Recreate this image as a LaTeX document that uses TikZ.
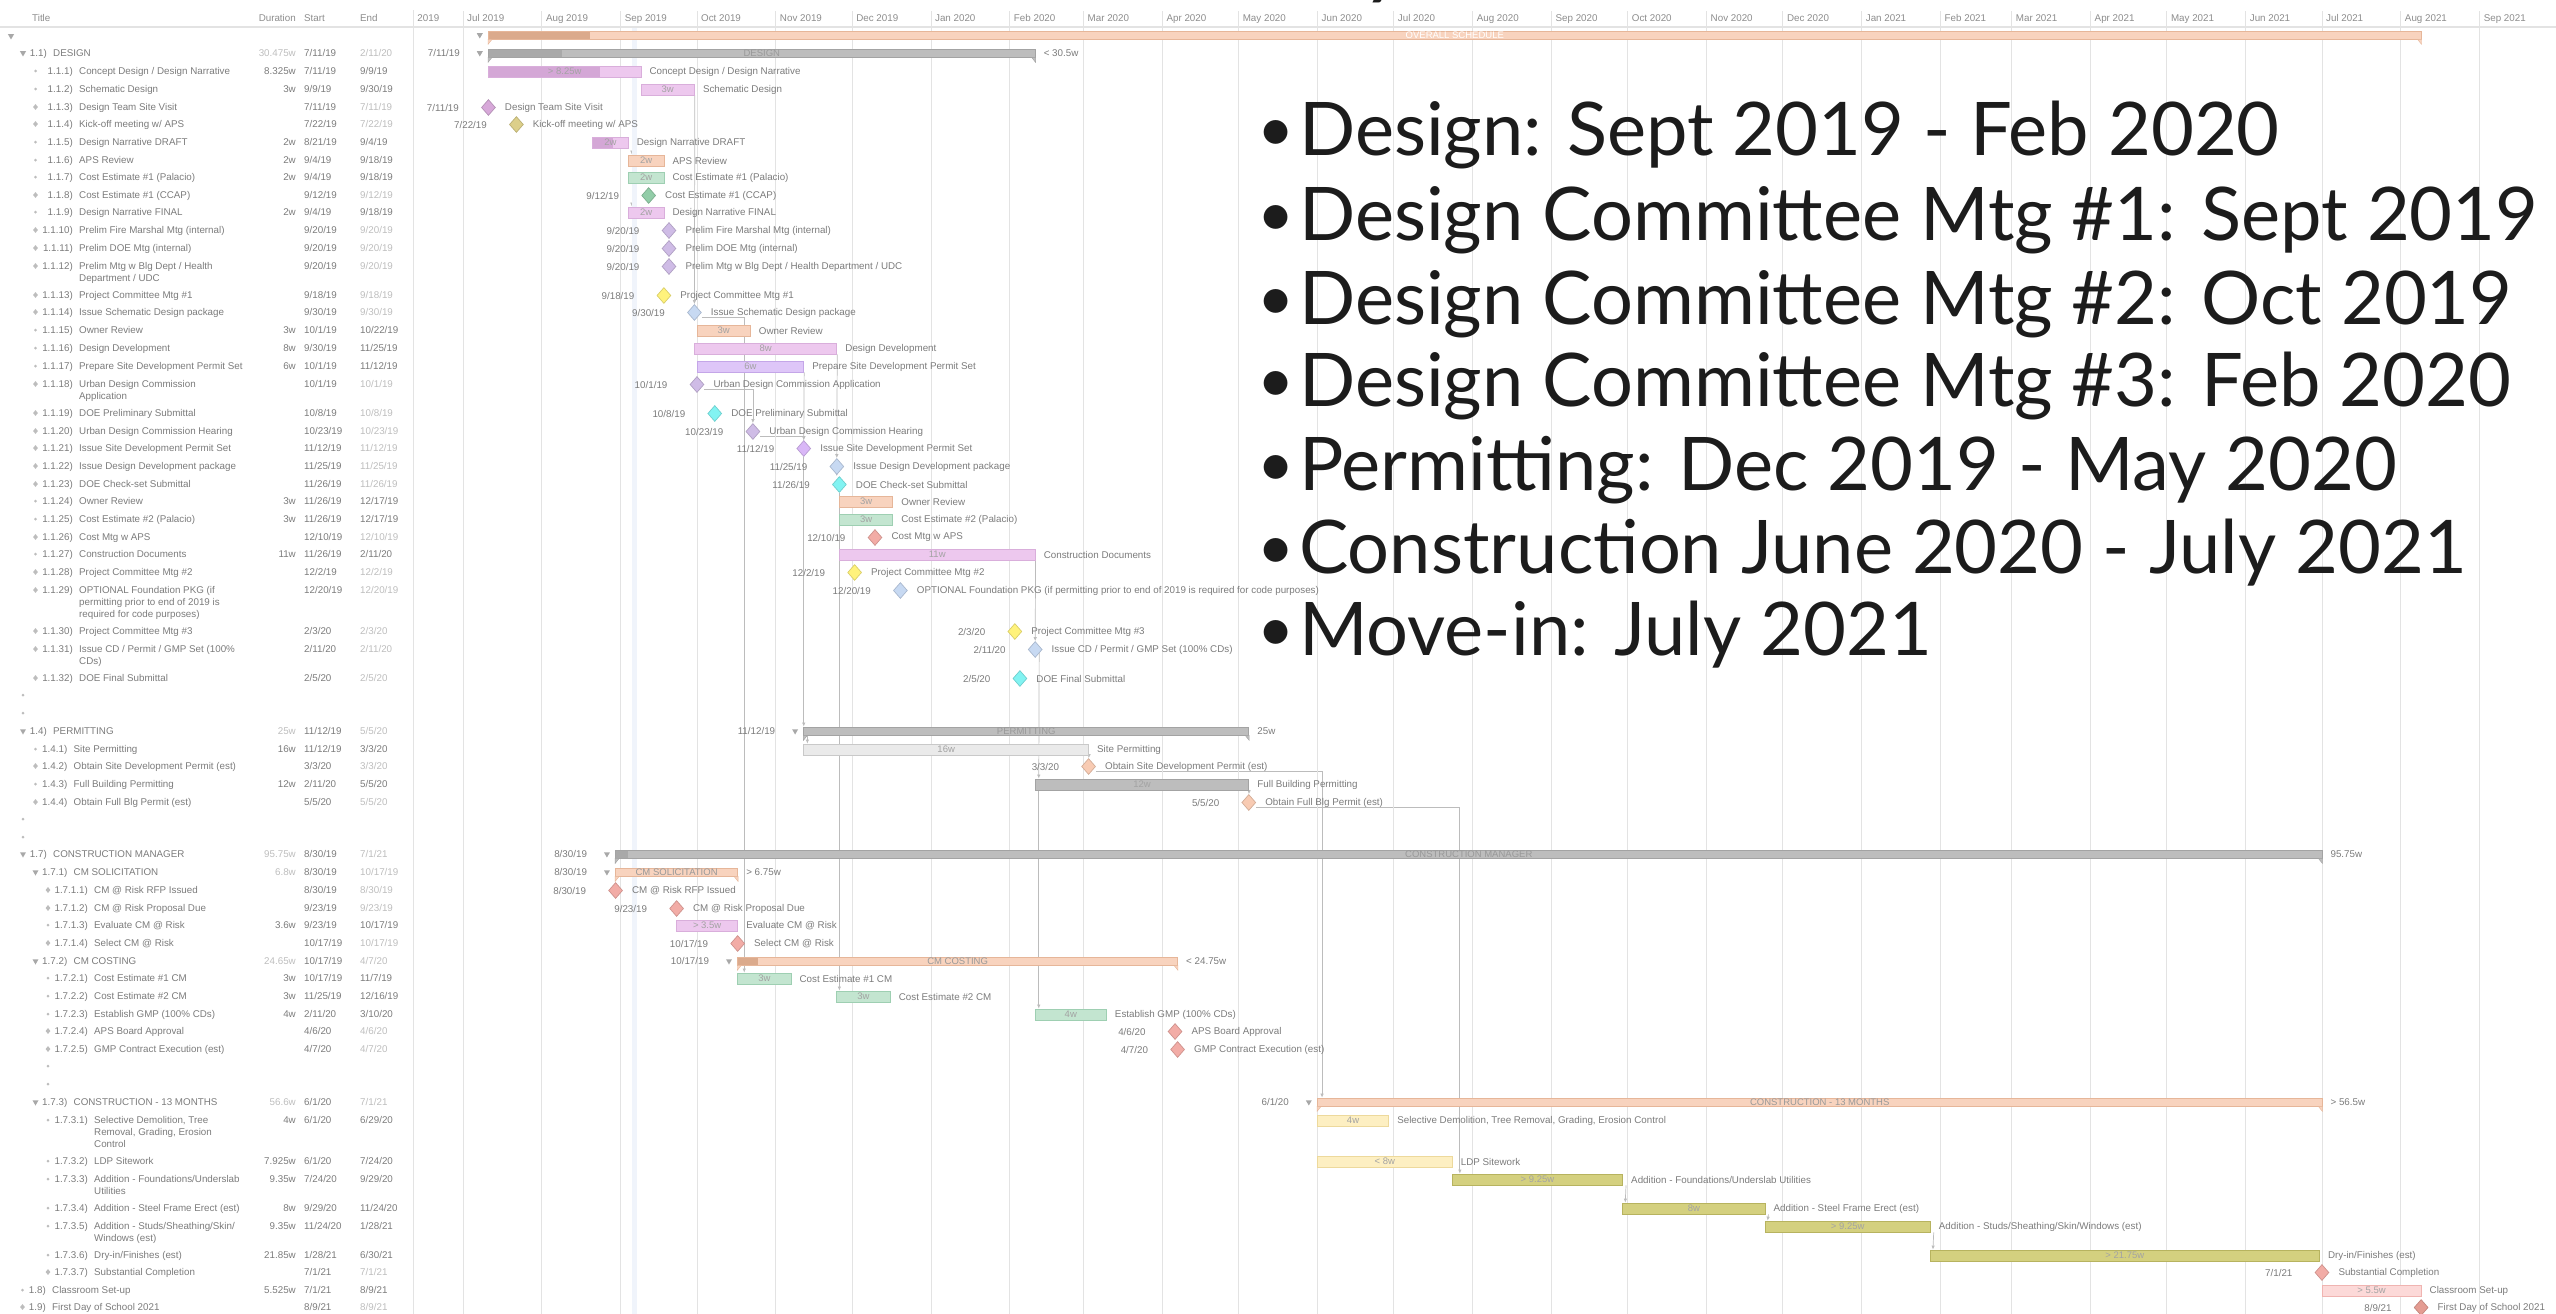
\documentclass[tikz,border=0pt]{standalone}
\usepackage{fontspec}
\setmainfont{Liberation Sans}
\newfontfamily\bigfont{Lato}
\usetikzlibrary{arrows.meta,positioning,shapes.geometric,backgrounds}

\definecolor{ctext}{HTML}{7B7B7B}
\definecolor{chead}{HTML}{8C8C8C}
\definecolor{clight}{HTML}{BDBDBD}
\definecolor{cgrid}{HTML}{E3E3E3}
\definecolor{cmark}{HTML}{A8A8A8}
\definecolor{cdep}{HTML}{BCBCBC}
\definecolor{ctoday}{HTML}{F0F4FB}
\definecolor{cbig}{HTML}{1C1C1C}
\definecolor{cbtext}{HTML}{A3A3A3}
\definecolor{cgtext}{HTML}{999999}
% bar colours
\definecolor{cpurple}{HTML}{EDC8EE}
\definecolor{cpurpleb}{HTML}{D9AEDB}
\definecolor{cpurpledk}{HTML}{D4A7D6}
\definecolor{corange}{HTML}{F8D3BE}
\definecolor{coranged}{HTML}{E6B699}
\definecolor{corangedk}{HTML}{DBAA8C}
\definecolor{cgreen}{HTML}{C3E5D0}
\definecolor{cgreenb}{HTML}{9ECFB2}
\definecolor{cgray}{HTML}{BDBDBD}
\definecolor{cgrayb}{HTML}{A3A3A3}
\definecolor{cgraydk}{HTML}{A9A9A9}
\definecolor{clgray}{HTML}{EAEAEA}
\definecolor{clgrayb}{HTML}{C9C9C9}
\definecolor{cviolet}{HTML}{DEC6F8}
\definecolor{cvioletb}{HTML}{C4A6E8}
\definecolor{cyellow}{HTML}{FDEFC2}
\definecolor{cyellowb}{HTML}{EDD99C}
\definecolor{colive}{HTML}{D4D07F}
\definecolor{coliveb}{HTML}{B7B35F}
\definecolor{cpink}{HTML}{FCD9D8}
\definecolor{cpinkb}{HTML}{F0B4B1}
% milestone colours
\definecolor{dpurple}{HTML}{D7A8D9}
\definecolor{dkhaki}{HTML}{DCCF8A}
\definecolor{dgreen}{HTML}{92CDA8}
\definecolor{dlav}{HTML}{CFBCE6}
\definecolor{dyellow}{HTML}{FFF27C}
\definecolor{dblue}{HTML}{C7D9F2}
\definecolor{dcyan}{HTML}{82F3F2}
\definecolor{dviolet}{HTML}{D9B7F7}
\definecolor{dsalmon}{HTML}{F2ACA6}
\definecolor{dpeach}{HTML}{F8CBB3}
\definecolor{dred}{HTML}{E49C92}

% table: y, marker x, marker, title x, number, title
\newcommand{\trow}[6]{%
  \node[#3] (mk#1) at (#2,#1) {};
  \node[tcell,anchor=base east] (no#1) at (#4-6,#1+3.5) {#5};
  \node[tcell,anchor=north west,align=left] (ti#1) at (#4,#1-4.5) {\rule{0pt}{8pt}#6};}
% table: y, duration, start, end, duration style, end style
\newcommand{\tcol}[6]{%
  \node[tcell,#5,anchor=base east] (du#1) at (296,#1+3.5) {#2};
  \node[tcell,anchor=base west] (st#1) at (304,#1+3.5) {#3};
  \node[tcell,#6,anchor=base west] (en#1) at (360,#1+3.5) {#4};}
% chart: [options] name, y, from, to, colours, duration, label
\newcommand{\tbar}[8][]{%
  \node[tbar,#6,minimum width={(#5-#4)*2.543pt},#1] (#2) at ({(#4+#5)/2},#3+0.5) {#7};
  \node[blabel,right=8pt of #2] (#2l) {#8};}
% chart: name, y, day, colours, date, label
\newcommand{\mstone}[6]{%
  \node[mstone,#4] (#1) at (#3,#2+0.5) {};
  \node[blabel,left=22pt of #1] (#1d) {#5};
  \node[blabel,right=9pt of #1] (#1l) {#6};}
% chart: [options] name, y, from, to, colours, title, date, total
\newcommand{\gbar}[9][]{%
  \node[gbar,#6,minimum width={(#5-#4)*2.543pt},#1] (#2) at ({(#4+#5)/2},#3) {#7};
  \path[#6] (#2.south west) -- ++(4pt,0) -- ++(-4pt,-5pt) -- cycle;
  \path[#6] (#2.south east) -- ++(-4pt,0) -- ++(4pt,-5pt) -- cycle;
  \node[mtri,left=6pt of #2] (#2t) {};
  \node[blabel,left=28pt of #2] (#2d) {#8};
  \node[blabel,right=8pt of #2] (#2r) {#9};}
% summary bullet
\newcommand{\pt}{\makebox[42pt][l]{\raisebox{4pt}{\fontsize{64}{64}\selectfont •}}}

\tikzset{done/.style 2 args={path picture={\fill[#2] (path picture bounding box.south west) rectangle ([xshift=#1]path picture bounding box.north west);}}}

\begin{document}
\begin{tikzpicture}[x=1pt,y=-1pt]
\tikzstyle{tcell}=[inner sep=0, text=ctext, font=\fontsize{9.8}{12}\selectfont]
\tikzstyle{thead}=[tcell, text=chead]
\tikzstyle{faded}=[text=clight]
\tikzstyle{blabel}=[tcell]
\tikzstyle{mdot}=[circle, fill=clight, inner sep=0, minimum size=3pt]
\tikzstyle{mdia}=[diamond, fill=clight, inner sep=0, minimum width=5pt, minimum height=6pt]
\tikzstyle{mtri}=[regular polygon, regular polygon sides=3, shape border rotate=180, fill=cmark, inner sep=0, minimum size=7pt]
\tikzstyle{tbar}=[rectangle, inner sep=0, minimum height=11pt, line width=0.8pt, text=cbtext, font=\fontsize{9.5}{10}\selectfont]
\tikzstyle{gbar}=[rectangle, inner sep=0, minimum height=8pt, line width=0.8pt, text=cgtext, font=\fontsize{9.5}{10}\selectfont]
\tikzstyle{mstone}=[diamond, inner sep=0, minimum width=14pt, minimum height=16pt, line width=0.7pt]
\tikzstyle{tpurple}=[fill=cpurple, draw=cpurpleb]
\tikzstyle{torange}=[fill=corange, draw=coranged]
\tikzstyle{tgreen}=[fill=cgreen, draw=cgreenb]
\tikzstyle{tgray}=[fill=cgray, draw=cgrayb]
\tikzstyle{tlgray}=[fill=clgray, draw=clgrayb]
\tikzstyle{tviolet}=[fill=cviolet, draw=cvioletb]
\tikzstyle{tyellow}=[fill=cyellow, draw=cyellowb]
\tikzstyle{tolive}=[fill=colive, draw=coliveb]
\tikzstyle{tpink}=[fill=cpink, draw=cpinkb]
\tikzstyle{gorange}=[fill=corange, draw=coranged]
\tikzstyle{ggray}=[fill=cgray, draw=cgrayb]
\tikzstyle{mpurple}=[fill=dpurple, draw=dpurple!80!black!90]
\tikzstyle{mkhaki}=[fill=dkhaki, draw=dkhaki!85!black]
\tikzstyle{mgreen}=[fill=dgreen, draw=dgreen!85!black]
\tikzstyle{mlav}=[fill=dlav, draw=dlav!85!black]
\tikzstyle{myellow}=[fill=dyellow, draw=dyellow!85!black]
\tikzstyle{mblue}=[fill=dblue, draw=dblue!85!black]
\tikzstyle{mcyan}=[fill=dcyan, draw=dcyan!85!black]
\tikzstyle{mviolet}=[fill=dviolet, draw=dviolet!85!black]
\tikzstyle{msalmon}=[fill=dsalmon, draw=dsalmon!85!black]
\tikzstyle{mpeach}=[fill=dpeach, draw=dpeach!85!black]
\tikzstyle{mred}=[fill=dred, draw=dred!85!black]
\tikzstyle{grid}=[draw=cgrid, line width=0.8pt]
\tikzstyle{dep}=[draw=cdep, line width=0.7pt, -{Latex[length=4pt,width=3.5pt]}]
\tikzstyle{bullet}=[inner sep=0, anchor=base west, text=cbig, font=\bigfont\fontsize{74}{80}\selectfont]

\useasboundingbox (0,0) rectangle (2556,1314);

% header
\node[thead,anchor=base west] (hTitle) at (32,22) {Title};
\node[thead,anchor=base east] (hDur) at (296,22) {Duration};
\node[thead,anchor=base west] (hStart) at (304,22) {Start};
\node[thead,anchor=base west] (hEnd) at (360,22) {End};
\draw[grid, line width=1.2pt] (0,27) -- (2556,27);
\draw[grid] (413,10) -- (413,1314);

% table
\node[mtri] (mk36) at (11,36) {};
\trow{53}{23}{mtri}{53}{1.1)}{DESIGN}             \tcol{53}{30.475w}{7/11/19}{2/11/20}{faded}{faded}
\trow{71}{35.5}{mdot}{79}{1.1.1)}{Concept Design / Design Narrative} \tcol{71}{8.325w}{7/11/19}{9/9/19}{}{}
\trow{89}{35.5}{mdot}{79}{1.1.2)}{Schematic Design} \tcol{89}{3w}{9/9/19}{9/30/19}{}{}
\trow{107}{35.5}{mdia}{79}{1.1.3)}{Design Team Site Visit} \tcol{107}{}{7/11/19}{7/11/19}{}{faded}
\trow{124}{35.5}{mdia}{79}{1.1.4)}{Kick-off meeting w/ APS} \tcol{124}{}{7/22/19}{7/22/19}{}{faded}
\trow{142}{35.5}{mdot}{79}{1.1.5)}{Design Narrative DRAFT} \tcol{142}{2w}{8/21/19}{9/4/19}{}{}
\trow{160}{35.5}{mdot}{79}{1.1.6)}{APS Review} \tcol{160}{2w}{9/4/19}{9/18/19}{}{}
\trow{177}{35.5}{mdot}{79}{1.1.7)}{Cost Estimate \#1 (Palacio)} \tcol{177}{2w}{9/4/19}{9/18/19}{}{}
\trow{195}{35.5}{mdia}{79}{1.1.8)}{Cost Estimate \#1 (CCAP)} \tcol{195}{}{9/12/19}{9/12/19}{}{faded}
\trow{212}{35.5}{mdot}{79}{1.1.9)}{Design Narrative FINAL} \tcol{212}{2w}{9/4/19}{9/18/19}{}{}
\trow{230}{35.5}{mdia}{79}{1.1.10)}{Prelim Fire Marshal Mtg (internal)} \tcol{230}{}{9/20/19}{9/20/19}{}{faded}
\trow{248}{35.5}{mdia}{79}{1.1.11)}{Prelim DOE Mtg (internal)} \tcol{248}{}{9/20/19}{9/20/19}{}{faded}
\trow{266}{35.5}{mdia}{79}{1.1.12)}{Prelim Mtg w Blg Dept / Health\\Department / UDC} \tcol{266}{}{9/20/19}{9/20/19}{}{faded}
\trow{295}{35.5}{mdia}{79}{1.1.13)}{Project Committee Mtg \#1} \tcol{295}{}{9/18/19}{9/18/19}{}{faded}
\trow{312}{35.5}{mdia}{79}{1.1.14)}{Issue Schematic Design package} \tcol{312}{}{9/30/19}{9/30/19}{}{faded}
\trow{330}{35.5}{mdot}{79}{1.1.15)}{Owner Review} \tcol{330}{3w}{10/1/19}{10/22/19}{}{}
\trow{348}{35.5}{mdot}{79}{1.1.16)}{Design Development} \tcol{348}{8w}{9/30/19}{11/25/19}{}{}
\trow{366}{35.5}{mdot}{79}{1.1.17)}{Prepare Site Development Permit Set} \tcol{366}{6w}{10/1/19}{11/12/19}{}{}
\trow{384}{35.5}{mdia}{79}{1.1.18)}{Urban Design Commission\\Application} \tcol{384}{}{10/1/19}{10/1/19}{}{faded}
\trow{413}{35.5}{mdia}{79}{1.1.19)}{DOE Preliminary Submittal} \tcol{413}{}{10/8/19}{10/8/19}{}{faded}
\trow{431}{35.5}{mdia}{79}{1.1.20)}{Urban Design Commission Hearing} \tcol{431}{}{10/23/19}{10/23/19}{}{faded}
\trow{448}{35.5}{mdia}{79}{1.1.21)}{Issue Site Development Permit Set} \tcol{448}{}{11/12/19}{11/12/19}{}{faded}
\trow{466}{35.5}{mdia}{79}{1.1.22)}{Issue Design Development package} \tcol{466}{}{11/25/19}{11/25/19}{}{faded}
\trow{484}{35.5}{mdia}{79}{1.1.23)}{DOE Check-set Submittal} \tcol{484}{}{11/26/19}{11/26/19}{}{faded}
\trow{501}{35.5}{mdot}{79}{1.1.24)}{Owner Review} \tcol{501}{3w}{11/26/19}{12/17/19}{}{}
\trow{519}{35.5}{mdot}{79}{1.1.25)}{Cost Estimate \#2 (Palacio)} \tcol{519}{3w}{11/26/19}{12/17/19}{}{}
\trow{537}{35.5}{mdia}{79}{1.1.26)}{Cost Mtg w APS} \tcol{537}{}{12/10/19}{12/10/19}{}{faded}
\trow{554}{35.5}{mdot}{79}{1.1.27)}{Construction Documents} \tcol{554}{11w}{11/26/19}{2/11/20}{}{}
\trow{572}{35.5}{mdia}{79}{1.1.28)}{Project Committee Mtg \#2} \tcol{572}{}{12/2/19}{12/2/19}{}{faded}
\trow{590}{35.5}{mdia}{79}{1.1.29)}{OPTIONAL Foundation PKG (if\\permitting prior to end of 2019 is\\required for code purposes)} \tcol{590}{}{12/20/19}{12/20/19}{}{faded}
\trow{631}{35.5}{mdia}{79}{1.1.30)}{Project Committee Mtg \#3} \tcol{631}{}{2/3/20}{2/3/20}{}{faded}
\trow{649}{35.5}{mdia}{79}{1.1.31)}{Issue CD / Permit / GMP Set (100\%\\CDs)} \tcol{649}{}{2/11/20}{2/11/20}{}{faded}
\trow{678}{35.5}{mdia}{79}{1.1.32)}{DOE Final Submittal} \tcol{678}{}{2/5/20}{2/5/20}{}{faded}
\node[mdot] (mk695) at (23,695) {};
\node[mdot] (mk713) at (23,713) {};
\trow{731}{23}{mtri}{53}{1.4)}{PERMITTING} \tcol{731}{25w}{11/12/19}{5/5/20}{faded}{faded}
\trow{749}{35.5}{mdot}{73.5}{1.4.1)}{Site Permitting} \tcol{749}{16w}{11/12/19}{3/3/20}{}{}
\trow{766}{35.5}{mdia}{73.5}{1.4.2)}{Obtain Site Development Permit (est)} \tcol{766}{}{3/3/20}{3/3/20}{}{faded}
\trow{784}{35.5}{mdot}{73.5}{1.4.3)}{Full Building Permitting} \tcol{784}{12w}{2/11/20}{5/5/20}{}{}
\trow{802}{35.5}{mdia}{73.5}{1.4.4)}{Obtain Full Blg Permit (est)} \tcol{802}{}{5/5/20}{5/5/20}{}{faded}
\node[mdot] (mk819) at (23,819) {};
\node[mdot] (mk837) at (23,837) {};
\trow{854}{23}{mtri}{53}{1.7)}{CONSTRUCTION MANAGER} \tcol{854}{95.75w}{8/30/19}{7/1/21}{faded}{faded}
\trow{872}{35.5}{mtri}{73.5}{1.7.1)}{CM SOLICITATION} \tcol{872}{6.8w}{8/30/19}{10/17/19}{faded}{faded}
\trow{890}{48}{mdia}{94}{1.7.1.1)}{CM @ Risk RFP Issued} \tcol{890}{}{8/30/19}{8/30/19}{}{faded}
\trow{908}{48}{mdia}{94}{1.7.1.2)}{CM @ Risk Proposal Due} \tcol{908}{}{9/23/19}{9/23/19}{}{faded}
\trow{925}{48}{mdot}{94}{1.7.1.3)}{Evaluate CM @ Risk} \tcol{925}{3.6w}{9/23/19}{10/17/19}{}{}
\trow{943}{48}{mdia}{94}{1.7.1.4)}{Select CM @ Risk} \tcol{943}{}{10/17/19}{10/17/19}{}{faded}
\trow{961}{35.5}{mtri}{73.5}{1.7.2)}{CM COSTING} \tcol{961}{24.65w}{10/17/19}{4/7/20}{faded}{faded}
\trow{978}{48}{mdot}{94}{1.7.2.1)}{Cost Estimate \#1 CM} \tcol{978}{3w}{10/17/19}{11/7/19}{}{}
\trow{996}{48}{mdot}{94}{1.7.2.2)}{Cost Estimate \#2 CM} \tcol{996}{3w}{11/25/19}{12/16/19}{}{}
\trow{1014}{48}{mdot}{94}{1.7.2.3)}{Establish GMP (100\% CDs)} \tcol{1014}{4w}{2/11/20}{3/10/20}{}{}
\trow{1031}{48}{mdia}{94}{1.7.2.4)}{APS Board Approval} \tcol{1031}{}{4/6/20}{4/6/20}{}{faded}
\trow{1049}{48}{mdia}{94}{1.7.2.5)}{GMP Contract Execution (est)} \tcol{1049}{}{4/7/20}{4/7/20}{}{faded}
\node[mdot] (mk1066) at (48,1066) {};
\node[mdot] (mk1084) at (48,1084) {};
\trow{1102}{35.5}{mtri}{73.5}{1.7.3)}{CONSTRUCTION - 13 MONTHS} \tcol{1102}{56.6w}{6/1/20}{7/1/21}{faded}{faded}
\trow{1120}{48}{mdot}{94}{1.7.3.1)}{Selective Demolition, Tree\\Removal, Grading, Erosion\\Control} \tcol{1120}{4w}{6/1/20}{6/29/20}{}{}
\trow{1161}{48}{mdot}{94}{1.7.3.2)}{LDP Sitework} \tcol{1161}{7.925w}{6/1/20}{7/24/20}{}{}
\trow{1179}{48}{mdot}{94}{1.7.3.3)}{Addition - Foundations/Underslab\\Utilities} \tcol{1179}{9.35w}{7/24/20}{9/29/20}{}{}
\trow{1208}{48}{mdot}{94}{1.7.3.4)}{Addition - Steel Frame Erect (est)} \tcol{1208}{8w}{9/29/20}{11/24/20}{}{}
\trow{1226}{48}{mdot}{94}{1.7.3.5)}{Addition - Studs/Sheathing/Skin/\\Windows (est)} \tcol{1226}{9.35w}{11/24/20}{1/28/21}{}{}
\trow{1255}{48}{mdot}{94}{1.7.3.6)}{Dry-in/Finishes (est)} \tcol{1255}{21.85w}{1/28/21}{6/30/21}{}{}
\trow{1272}{48}{mdia}{94}{1.7.3.7)}{Substantial Completion} \tcol{1272}{}{7/1/21}{7/1/21}{}{faded}
\trow{1290}{22.5}{mdot}{52}{1.8)}{Classroom Set-up} \tcol{1290}{5.525w}{7/1/21}{8/9/21}{}{}
\trow{1307}{22.5}{mdia}{52}{1.9)}{First Day of School 2021} \tcol{1307}{}{8/9/21}{8/9/21}{}{faded}

% chart, x counted in days from 1 Jul 2019
\begin{scope}[shift={(463,0)},x=2.543pt]
  \fill[ctoday] (66.5,28) rectangle (68.5,1314);
  \node[thead,anchor=base west] (h2019) at (-18,22) {2019};
  \foreach \d/\m in {0/Jul 2019,31/Aug 2019,62/Sep 2019,92/Oct 2019,123/Nov 2019,153/Dec 2019,
      184/Jan 2020,215/Feb 2020,244/Mar 2020,275/Apr 2020,305/May 2020,336/Jun 2020,366/Jul 2020,
      397/Aug 2020,428/Sep 2020,458/Oct 2020,489/Nov 2020,519/Dec 2020,550/Jan 2021,581/Feb 2021,
      609/Mar 2021,640/Apr 2021,670/May 2021,701/Jun 2021,731/Jul 2021,762/Aug 2021,793/Sep 2021}{
    \draw[grid] (\d,11) -- (\d,1314);
    \node[thead,anchor=base west] (h\d) at ([xshift=4pt]\d,22) {\m};
  }

  \gbar[done={(50-10)*2.543pt}{corangedk},text=white]{overall}{35}{10}{770}{gorange}{OVERALL SCHEDULE}{}{}
  \gbar[done={(39-10)*2.543pt}{cgraydk}]{design}{53}{10}{225}{ggray}{DESIGN}{7/11/19}{< 30.5w}
  \tbar[done={(54-10)*2.543pt}{cpurpledk}]{concept}{71}{10}{70}{tpurple}{> 8.25w}{Concept Design / Design Narrative}
  \tbar{schematic}{89}{70}{91}{tpurple}{3w}{Schematic Design}
  \mstone{sitevisit}{107}{10}{mpurple}{7/11/19}{Design Team Site Visit}
  \mstone{kickoff}{124}{21}{mkhaki}{7/22/19}{Kick-off meeting w/ APS}
  \tbar[done={(59-51)*2.543pt}{cpurpledk}]{draft}{142}{51}{65}{tpurple}{2w}{Design Narrative DRAFT}
  \tbar{apsreview}{160}{65}{79}{torange}{2w}{APS Review}
  \tbar{costpal}{177}{65}{79}{tgreen}{2w}{Cost Estimate \#1 (Palacio)}
  \mstone{costccap}{195}{73}{mgreen}{9/12/19}{Cost Estimate \#1 (CCAP)}
  \tbar{final}{212}{65}{79}{tpurple}{2w}{Design Narrative FINAL}
  \mstone{firemtg}{230}{81}{mlav}{9/20/19}{Prelim Fire Marshal Mtg (internal)}
  \mstone{doemtg}{248}{81}{mlav}{9/20/19}{Prelim DOE Mtg (internal)}
  \mstone{blgmtg}{266}{81}{mlav}{9/20/19}{Prelim Mtg w Blg Dept / Health Department / UDC}
  \mstone{pcmtgA}{295}{79}{myellow}{9/18/19}{Project Committee Mtg \#1}
  \mstone{issuesd}{312}{91}{mblue}{9/30/19}{Issue Schematic Design package}
  \tbar{ownerA}{330}{92}{113}{torange}{3w}{Owner Review}
  \tbar{dd}{348}{91}{147}{tpurple}{8w}{Design Development}
  \tbar{sdpset}{366}{92}{134}{tviolet}{6w}{Prepare Site Development Permit Set}
  \mstone{udcapp}{384}{92}{mlav}{10/1/19}{Urban Design Commission Application}
  \mstone{doeprelim}{413}{99}{mcyan}{10/8/19}{DOE Preliminary Submittal}
  \mstone{udchear}{431}{114}{mlav}{10/23/19}{Urban Design Commission Hearing}
  \mstone{issuesdp}{448}{134}{mviolet}{11/12/19}{Issue Site Development Permit Set}
  \mstone{issuedd}{466}{147}{mblue}{11/25/19}{Issue Design Development package}
  \mstone{doecheck}{484}{148}{mcyan}{11/26/19}{DOE Check-set Submittal}
  \tbar{ownerB}{501}{148}{169}{torange}{3w}{Owner Review}
  \tbar{costpalB}{519}{148}{169}{tgreen}{3w}{Cost Estimate \#2 (Palacio)}
  \mstone{costmtg}{537}{162}{msalmon}{12/10/19}{Cost Mtg w APS}
  \tbar{cd}{554}{148}{225}{tpurple}{11w}{Construction Documents}
  \mstone{pcmtgB}{572}{154}{myellow}{12/2/19}{Project Committee Mtg \#2}
  \mstone{optfound}{590}{172}{mblue}{12/20/19}{OPTIONAL Foundation PKG (if permitting prior to end of 2019 is required for code purposes)}
  \mstone{pcmtgC}{631}{217}{myellow}{2/3/20}{Project Committee Mtg \#3}
  \mstone{issuecd}{649}{225}{mblue}{2/11/20}{Issue CD / Permit / GMP Set (100\% CDs)}
  \mstone{doefinal}{678}{219}{mcyan}{2/5/20}{DOE Final Submittal}

  \gbar{permitting}{731}{134}{309}{ggray}{PERMITTING}{11/12/19}{25w}
  \tbar{sitepermit}{749}{134}{246}{tlgray}{16w}{Site Permitting}
  \mstone{sdpermit}{766}{246}{mpeach}{3/3/20}{Obtain Site Development Permit (est)}
  \tbar{bldgpermit}{784}{225}{309}{tgray}{12w}{Full Building Permitting}
  \mstone{blgpermit}{802}{309}{mpeach}{5/5/20}{Obtain Full Blg Permit (est)}

  \gbar[done={(65-60)*2.543pt}{cgraydk}]{cmgr}{854}{60}{731}{ggray}{CONSTRUCTION MANAGER}{8/30/19}{95.75w}
  \gbar{cmsol}{872}{60}{108}{gorange}{CM SOLICITATION}{8/30/19}{> 6.75w}
  \mstone{rfp}{890}{60}{msalmon}{8/30/19}{CM @ Risk RFP Issued}
  \mstone{proposal}{908}{84}{msalmon}{9/23/19}{CM @ Risk Proposal Due}
  \tbar{evalcm}{925}{84}{108}{tpurple}{> 3.5w}{Evaluate CM @ Risk}
  \mstone{selectcm}{943}{108}{msalmon}{10/17/19}{Select CM @ Risk}
  \gbar[done={(116-108)*2.543pt}{corangedk}]{cmcost}{961}{108}{281}{gorange}{CM COSTING}{10/17/19}{< 24.75w}
  \tbar{costcmA}{978}{108}{129}{tgreen}{3w}{Cost Estimate \#1 CM}
  \tbar{costcmB}{996}{147}{168}{tgreen}{3w}{Cost Estimate \#2 CM}
  \tbar{gmp}{1014}{225}{253}{tgreen}{4w}{Establish GMP (100\% CDs)}
  \mstone{board}{1031}{280}{msalmon}{4/6/20}{APS Board Approval}
  \mstone{gmpexec}{1049}{281}{msalmon}{4/7/20}{GMP Contract Execution (est)}

  \gbar{constr}{1102}{336}{731}{gorange}{CONSTRUCTION - 13 MONTHS}{6/1/20}{> 56.5w}
  \tbar{demo}{1120}{336}{364}{tyellow}{4w}{Selective Demolition, Tree Removal, Grading, Erosion Control}
  \tbar{ldp}{1161}{336}{389}{tyellow}{< 8w}{LDP Sitework}
  \tbar{found}{1179}{389}{456}{tolive}{> 9.25w}{Addition - Foundations/Underslab Utilities}
  \tbar{steel}{1208}{456}{512}{tolive}{8w}{Addition - Steel Frame Erect (est)}
  \tbar{studs}{1226}{512}{577}{tolive}{> 9.25w}{Addition - Studs/Sheathing/Skin/Windows (est)}
  \tbar{dryin}{1255}{577}{730}{tolive}{> 21.75w}{Dry-in/Finishes (est)}
  \mstone{subst}{1272}{731}{msalmon}{7/1/21}{Substantial Completion}
  \tbar{classroom}{1290}{731}{770}{tpink}{> 5.5w}{Classroom Set-up}
  \mstone{firstday}{1307}{770}{mred}{8/9/21}{First Day of School 2021}
\end{scope}

% dependencies
\begin{scope}[on background layer]
  \draw[dep] (schematic.south east) -- (issuesd.north);
  \draw[dep] ([xshift=4pt]apsreview.north west |- draft.south) -- ([xshift=4pt]apsreview.north west);
  \draw[dep] ([xshift=4pt]apsreview.south west) -- ([xshift=4pt]final.north west);
  \draw[dep] ([yshift=-5pt]issuesd.east) -| ([xshift=7pt]costcmA.north west);
  \draw[dep] ([yshift=-5pt]udcapp.east) -| (udchear.north);
  \draw[dep] ([yshift=-5pt]udchear.east) -| (issuesdp.north);
  \draw[dep] (sdpset.south east) -- (issuesdp.north);
  \draw[dep] (issuesdp.south) -- (issuesdp.south |- permitting.north);
  \draw[dep] ([xshift=4pt]permitting.south west) -- ([xshift=4pt]sitepermit.north west);
  \draw[dep] (dd.south east) -- (issuedd.north);
  \draw[dep] (issuedd.south) -- (issuedd.south |- doecheck.north);
  \draw[dep] (doecheck.south) -- (doecheck.south |- costcmB.north);
  \draw[dep] (cd.south east) -- (issuecd.north);
  \draw[dep] ([xshift=4pt]issuecd.center) -- ([xshift=4pt]bldgpermit.north west);
  \draw[dep] ([xshift=4pt]bldgpermit.south west) -- ([xshift=4pt]gmp.north west);
  \draw[dep] (sitepermit.south east) -- (sdpermit.north);
  \draw[dep] ([yshift=-5pt]sdpermit.east) -| ([xshift=5pt]constr.north west);
  \draw[dep] (bldgpermit.south east) -- (blgpermit.north);
  \draw[dep] ([yshift=-5pt]blgpermit.east) -| ([xshift=8pt]found.north west);
  \draw[dep] ([xshift=3pt]found.south east) -- ([xshift=3pt]steel.north west);
  \draw[dep] ([xshift=3pt]steel.south east) -- ([xshift=3pt]studs.north west);
  \draw[dep] ([xshift=3pt]studs.south east) -- ([xshift=3pt]dryin.north west);
\end{scope}

% summary
\node[bullet,anchor=base,font=\bigfont\fontsize{90}{90}\selectfont] (ttl) at (1385,-12) {y};
\node[bullet] (pt1) at (1257,155) {\pt Design: Sept 2019 - Feb 2020};
\node[bullet] (pt2) at (1257,240) {\pt Design Committee Mtg \#1: Sept 2019};
\node[bullet] (pt3) at (1257,324) {\pt Design Committee Mtg \#2: Oct 2019};
\node[bullet] (pt4) at (1257,406) {\pt Design Committee Mtg \#3: Feb 2020};
\node[bullet] (pt5) at (1257,490) {\pt Permitting: Dec 2019 - May 2020};
\node[bullet] (pt6) at (1257,573) {\pt Construction June 2020 - July 2021};
\node[bullet] (pt7) at (1257,655) {\pt Move-in: July 2021};
\end{tikzpicture}
\end{document}
